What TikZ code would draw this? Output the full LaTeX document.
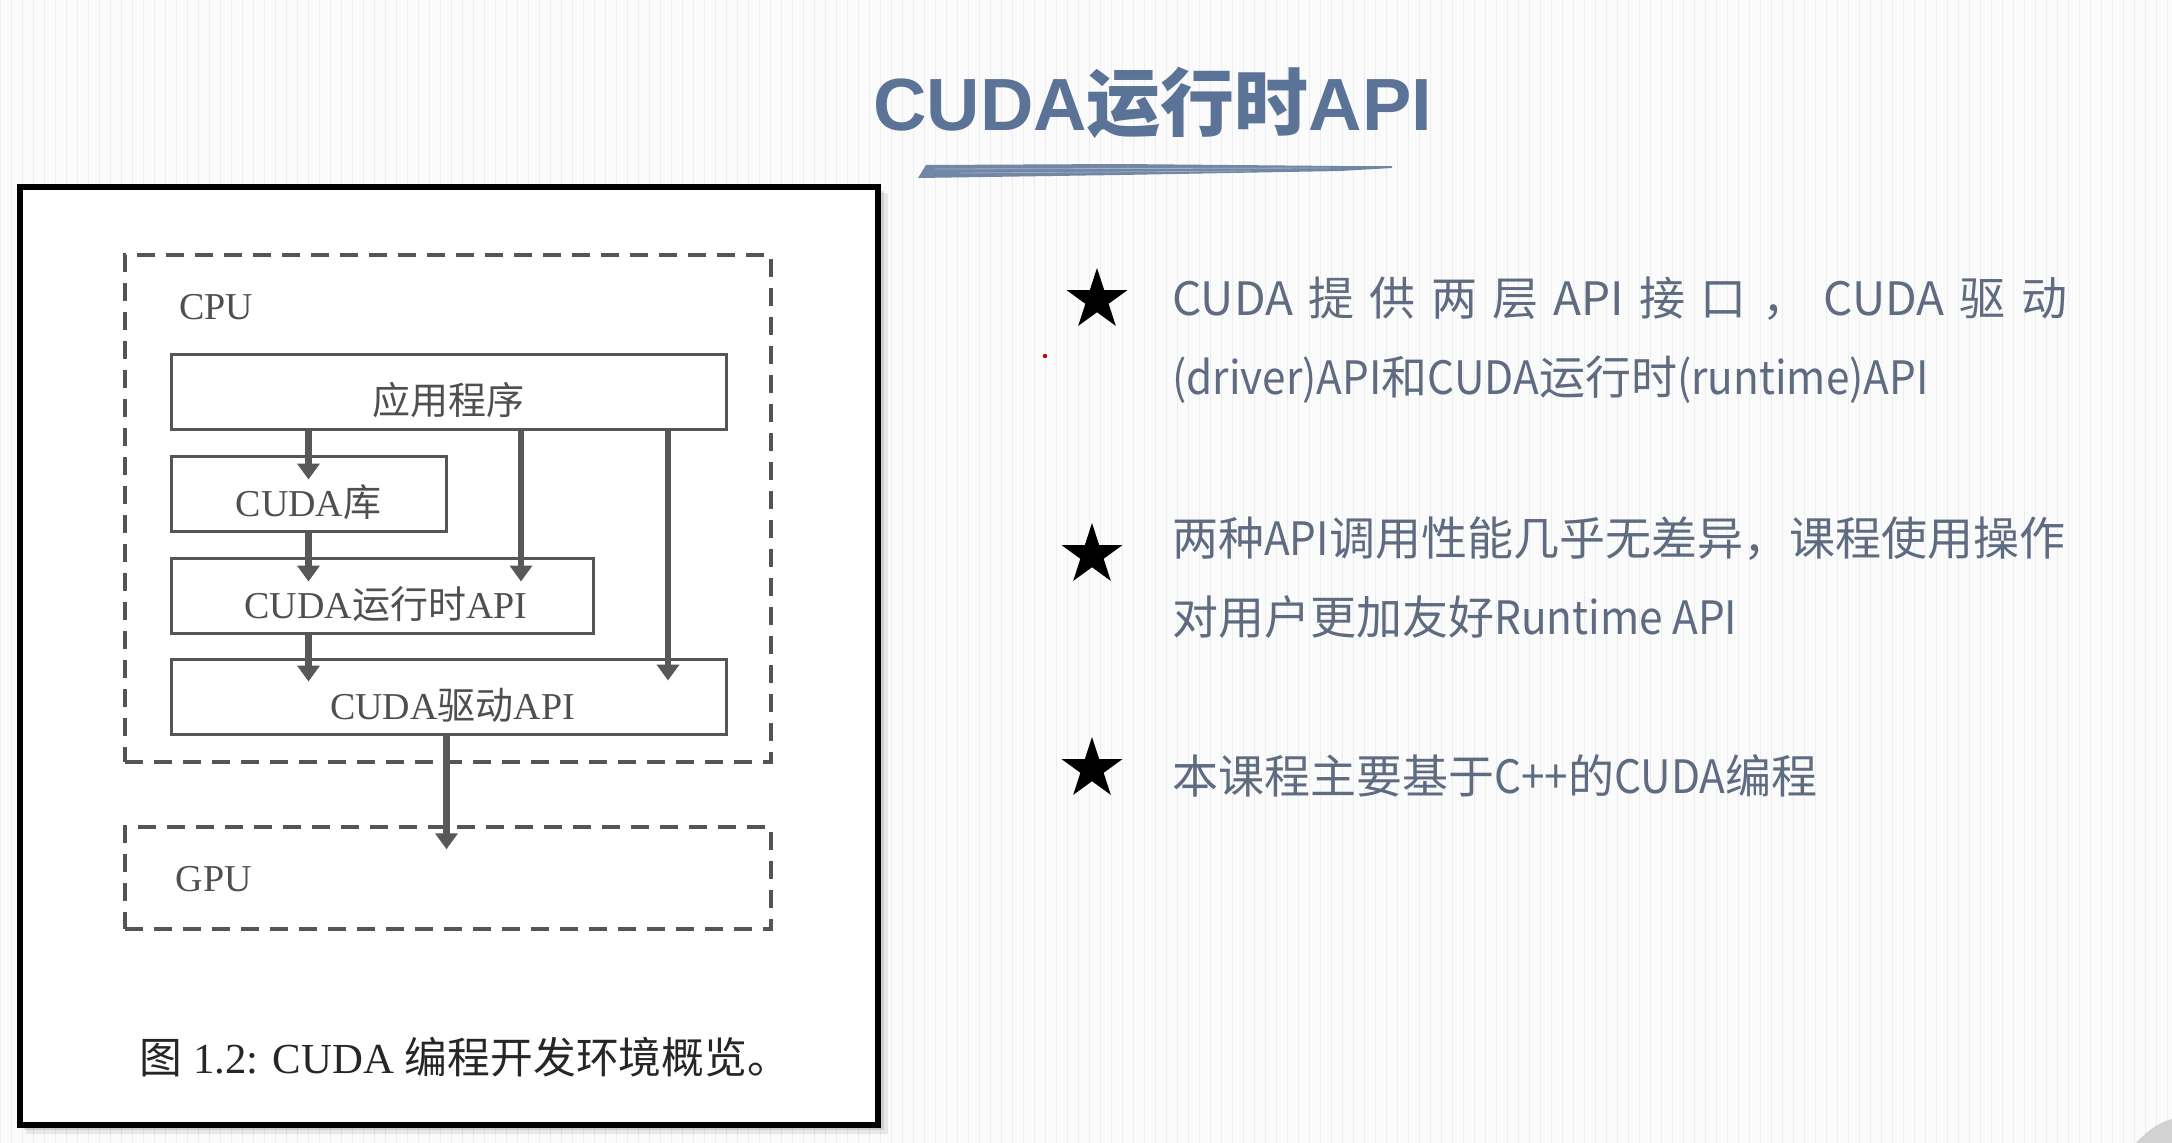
\documentclass[tikz,border=0pt]{standalone}
\usepackage{fontspec}
\usetikzlibrary{arrows.meta,shapes.geometric,calc}
\setmainfont{Liberation Serif}
\newfontfamily\cjk{Noto Sans CJK SC}
\newfontfamily\cjklat{Noto Sans CJK SC}[FakeStretch=0.92]
\newfontfamily\lsans{Liberation Sans}
\newcommand\zh[1]{{\cjk #1}}
\newcommand\lt[1]{{\cjklat #1}}
\newcommand\low[1]{\raisebox{-9pt}[\height][\depth]{#1}}
\newcommand\diagfont{\fontsize{38}{44}\selectfont}
\newcommand\bodyfont{\cjk\fontsize{46}{52}\selectfont}
\definecolor{bgc}{HTML}{FBFBFB}
\definecolor{gridc}{HTML}{EDEDED}
\definecolor{boxc}{HTML}{555555}
\definecolor{arrc}{HTML}{585858}
\definecolor{dtxt}{HTML}{4F4F4F}
\definecolor{capc}{HTML}{262626}
\definecolor{titlec}{HTML}{5A7396}
\definecolor{bodyc}{HTML}{5E6B80}
\tikzset{
  box/.style={draw=boxc, line width=3, inner sep=0, text=dtxt, font=\diagfont},
  dbox/.style={draw=boxc, line width=3.5, dash pattern=on 18pt off 11pt, inner sep=0},
  arr/.style={draw=arrc, line width=6.5, -{Triangle[width=22pt,length=16pt]}},
  lbl/.style={text=dtxt, font=\diagfont, inner sep=0},
  body/.style={text=bodyc, font=\bodyfont, inner sep=0, anchor=base west},
  bullet/.style={star, star points=5, star point ratio=2.618, fill=black, draw=none, inner sep=0, minimum size=64pt},
}
\begin{document}
\begin{tikzpicture}[x=1pt,y=-1pt]
\useasboundingbox (0,0) rectangle (2172,1143);
% background with faint grid
\fill[bgc] (0,0) rectangle (2172,1143);
\draw[gridc, line width=0.9] (0,0) grid[step=11] (2172,1143);
% corner artefact
\fill[gray!35] (2136,1143) .. controls (2148,1130) and (2160,1122) .. (2172,1119) -- (2172,1143) -- cycle;
% title
\node[anchor=base west, text=titlec, inner sep=0, font=\fontsize{74}{80}\selectfont\bfseries] (title) at (873,130)
  {{\lsans CUDA}{\cjk 运行时}{\lsans API}};
% brush underline
\fill[titlec, opacity=0.85] (918,178) -- (926,165) -- (1120,164) -- (1340,166) -- (1392,166) -- (1392,168) -- (1340,171) -- (1120,175) -- cycle;
\draw[white, opacity=0.35, line width=0.8] (935,169) -- (1330,168);
\draw[white, opacity=0.3, line width=0.8] (960,173) -- (1250,171);
% frame with shadow
\fill[black, opacity=0.08] (26,193) rectangle (888,1134);
\fill[black, opacity=0.10] (24,191) rectangle (884,1130);
\node[draw=black, line width=6.5, fill=white, minimum width=858, minimum height=938, inner sep=0] (frame) at (449,656) {};
% dashed regions
\node[dbox, minimum width=646, minimum height=507] (cpu) at (448,508.5) {};
\node[dbox, minimum width=646, minimum height=102] (gpu) at (448,878) {};
\node[lbl] (cpul) at (216,307) {CPU};
\node[lbl] (gpul) at (214,879) {GPU};
% boxes
\node[box, minimum width=555, minimum height=75] (app) at (448.5,391.5) {\low{\zh{应用程序}}};
\node[box, minimum width=275, minimum height=75] (lib) at (308.5,493.5) {\low{CUDA\zh{库}}};
\node[box, minimum width=422, minimum height=75] (rt) at (382,595.5) {\low{\hspace{8pt}CUDA\zh{运行时}API}};
\node[box, minimum width=555, minimum height=75] (drv) at (448.5,696.5) {\low{\hspace{8pt}CUDA\zh{驱动}API}};
% arrows
\coordinate (a2) at ([xshift=72.5pt]app.south);
\coordinate (a3) at ([xshift=219.5pt]app.south);
\draw[arr] (app.south -| lib.center) -- ($(lib.north)+(0,25)$);
\draw[arr] (lib.south) -- ($(lib.south |- rt.north)+(0,25)$);
\draw[arr] (rt.south -| lib.center) -- ($(lib.center |- drv.north)+(0,24)$);
\draw[arr] (a2) -- ($(a2 |- rt.north)+(0,25)$);
\draw[arr] (a3) -- ($(a3 |- drv.north)+(0,23)$);
\draw[arr] ([xshift=-2pt]drv.south) -- ($([xshift=-2pt]drv.south |- gpu.north)+(0,24)$);
% caption
\node[text=capc, inner sep=0, font=\fontsize{42.8}{48}\selectfont] (cap) at (465,1057)
  {\zh{图} 1.2: CUDA \zh{编程开发环境概览。}};
% bullets
\node[bullet] (s1) at (1097,300) {};
\node[bullet] (s2) at (1092,555) {};
\node[bullet] (s3) at (1092,769) {};
\fill[red!75!black] (1045,356) circle (2.2);
\node[body] (t1) at (1172,315) {\makebox[895pt][s]{CUDA 提 供 两 层 API 接 口 ， CUDA 驱 动}};
\node[body] (t2) at (1172,394) {\lt{(driver)API}和\lt{CUDA}运行时\lt{(runtime)API}};
\node[body] (t3) at (1172,555) {两种\lt{API}调用性能几乎无差异，课程使用操作};
\node[body] (t4) at (1172,634) {对用户更加友好\lt{Runtime API}};
\node[body] (t5) at (1172,793) {本课程主要基于\lt{C++}的\lt{CUDA}编程};
\end{tikzpicture}
\end{document}
